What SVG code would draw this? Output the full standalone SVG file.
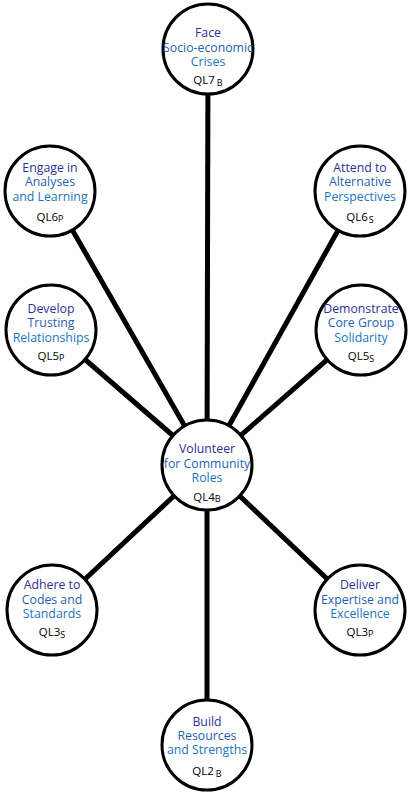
<svg xmlns="http://www.w3.org/2000/svg" width="415" height="794" viewBox="0 0 415 794">
<style>
.bg{fill:#ffffff}
.edge{stroke:#000;stroke-width:5;fill:none}
.node circle{fill:#fff;stroke:#000;stroke-width:3}
text{font-family:"Open Sans","Noto Sans","Liberation Sans",sans-serif;font-size:12.3px;text-anchor:middle}
.l1{fill:#2e3192}
.l2{fill:#1f5fb0}
.l3{fill:#1b75bc}
.ql{fill:#000;font-size:11.5px}
.sub{font-size:9px}
</style>
<rect class="bg" width="415" height="794"/>
<g id="connectors">
<line class="edge" x1="208" y1="49" x2="207" y2="465"/>
<line class="edge" x1="50" y1="191" x2="207" y2="465"/>
<line class="edge" x1="360" y1="191" x2="207" y2="465"/>
<line class="edge" x1="51" y1="330" x2="207" y2="465"/>
<line class="edge" x1="361" y1="330" x2="207" y2="465"/>
<line class="edge" x1="52" y1="610" x2="207" y2="465"/>
<line class="edge" x1="360" y1="610" x2="207" y2="465"/>
<line class="edge" x1="207" y1="742" x2="207" y2="465"/>
</g>
<g id="n-ql7" class="node">
<circle cx="208" cy="49" r="45"/>
<text x="208" y="37" class="l1">Face</text>
<text x="208" y="51.5" class="l2">Socio-economic</text>
<text x="208" y="65.5" class="l3">Crises</text>
<text x="208" y="84" class="ql">QL7<tspan class="sub" dx="2" dy="2">B</tspan></text>
</g>
<g id="n-ql6p" class="node">
<circle cx="50" cy="191" r="45"/>
<text x="50" y="171.5" class="l1">Engage in</text>
<text x="50" y="186" class="l2">Analyses</text>
<text x="50" y="200.5" class="l3">and Learning</text>
<text x="50" y="221" class="ql">QL6<tspan class="sub" dy="1">P</tspan></text>
</g>
<g id="n-ql6s" class="node">
<circle cx="360" cy="191" r="45"/>
<text x="360" y="171.5" class="l1">Attend to</text>
<text x="360" y="186" class="l2">Alternative</text>
<text x="360" y="200.5" class="l3">Perspectives</text>
<text x="360" y="221" class="ql">QL6<tspan class="sub" dx="1" dy="2">S</tspan></text>
</g>
<g id="n-ql5p" class="node">
<circle cx="51" cy="330" r="45"/>
<text x="51" y="312.5" class="l1">Develop</text>
<text x="51" y="327" class="l2">Trusting</text>
<text x="51" y="341.5" class="l3">Relationships</text>
<text x="51" y="360" class="ql">QL5<tspan class="sub" dy="1">P</tspan></text>
</g>
<g id="n-ql5s" class="node">
<circle cx="361" cy="330" r="45"/>
<text x="361" y="312.5" class="l1">Demonstrate</text>
<text x="361" y="327" class="l2">Core Group</text>
<text x="361" y="341.5" class="l3">Solidarity</text>
<text x="361" y="360" class="ql">QL5<tspan class="sub" dy="2">S</tspan></text>
</g>
<g id="n-ql4b" class="node">
<circle cx="207" cy="465" r="45"/>
<text x="207" y="453" class="l1">Volunteer</text>
<text x="207" y="467.5" class="l2">for Community</text>
<text x="207" y="481.5" class="l3">Roles</text>
<text x="207" y="501" class="ql">QL4<tspan class="sub" dy="1">B</tspan></text>
</g>
<g id="n-ql3s" class="node">
<circle cx="52" cy="610" r="45"/>
<text x="52" y="589" class="l1">Adhere to</text>
<text x="52" y="603.5" class="l2">Codes and</text>
<text x="52" y="617.5" class="l3">Standards</text>
<text x="52" y="636" class="ql">QL3<tspan class="sub" dy="2">S</tspan></text>
</g>
<g id="n-ql3p" class="node">
<circle cx="360" cy="610" r="45"/>
<text x="360" y="589" class="l1">Deliver</text>
<text x="360" y="603.5" class="l2">Expertise and</text>
<text x="360" y="617.5" class="l3">Excellence</text>
<text x="360" y="636" class="ql">QL3<tspan class="sub" dy="1">P</tspan></text>
</g>
<g id="n-ql2b" class="node">
<circle cx="207" cy="745" r="45"/>
<text x="207" y="726" class="l1">Build</text>
<text x="207" y="740" class="l2">Resources</text>
<text x="207" y="754" class="l3">and Strengths</text>
<text x="207" y="775" class="ql">QL2<tspan class="sub" dx="2" dy="2">B</tspan></text>
</g>
</svg>
